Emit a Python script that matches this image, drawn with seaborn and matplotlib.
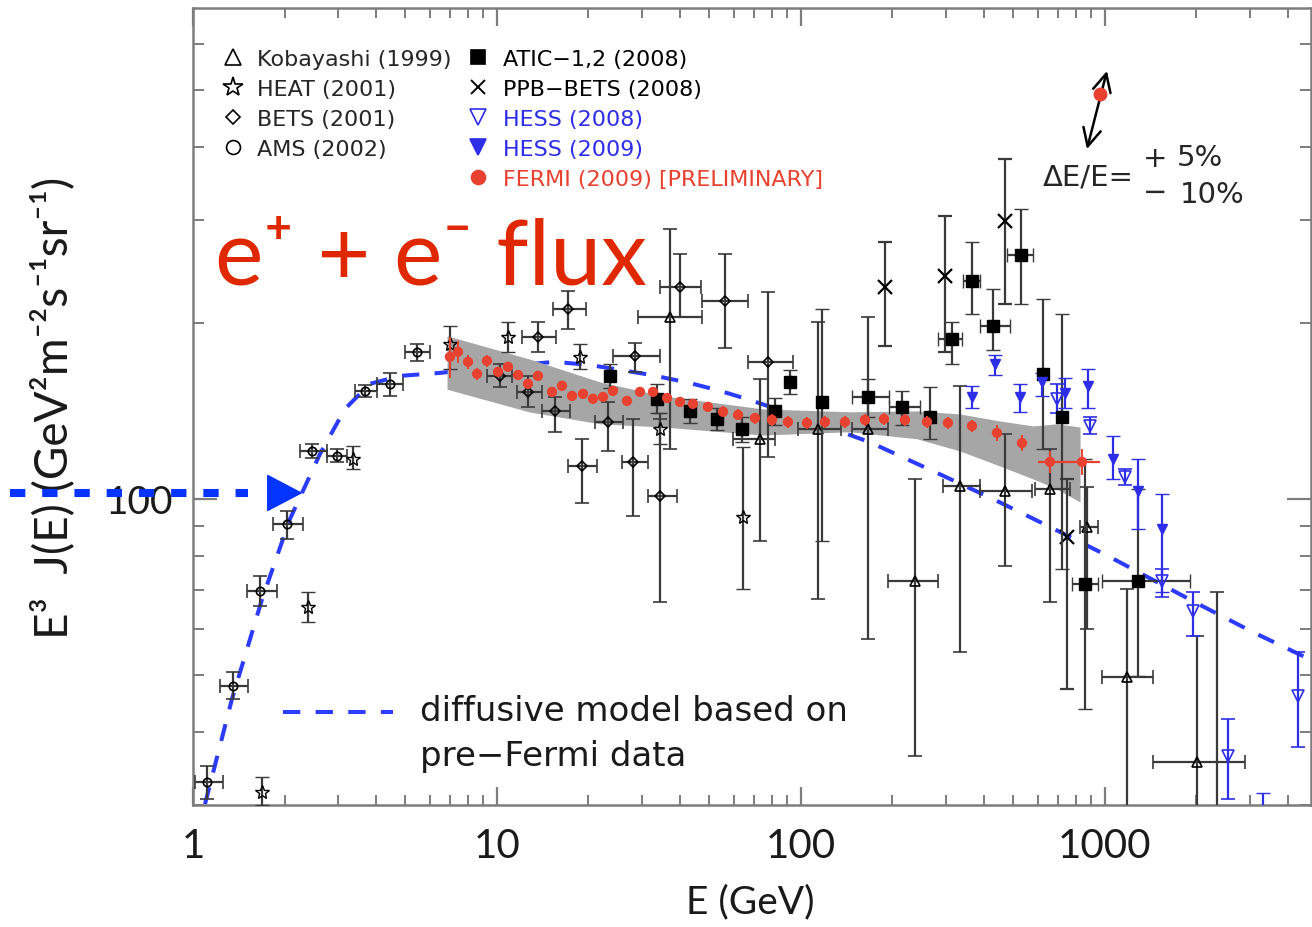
import numpy as np
import seaborn as sns
import matplotlib
matplotlib.use("Agg")
import matplotlib.pyplot as plt
from matplotlib.lines import Line2D
from matplotlib.ticker import FixedLocator, FixedFormatter, LogLocator, NullFormatter

# ---------------- data (E in GeV, flux = E^3 J(E)) ----------------
# diffusive model based on pre-Fermi data
model_E = [1.095, 1.343, 1.687, 2.084, 2.617, 3.162, 3.82, 4.80, 6.49, 10.2, 15.5, 20.2,
           31.9, 43.1, 54.2, 68.0, 99.3, 168.6, 276, 428, 659, 1038, 2022, 3113, 4725]
model_flux = [30.1, 45.5, 67.4, 92.4, 119.4, 142.5, 157.3, 162.3, 164.2, 168.3, 171.5, 169.4,
              163.0, 157.8, 153.0, 147.6, 138.1, 125.0, 111.2, 100.0, 89.6, 79.6, 66.2, 59.0, 53.2]

# Fermi systematic band
band_E = [6.85, 12.8, 21.8, 35.2, 75, 145, 241, 333, 452, 580, 695, 828]
band_lo = [154, 140.8, 134.4, 132.7, 128.6, 130.3, 126.7, 120.8, 113.8, 108.2, 104.0, 98.8]
band_hi = [190, 173.4, 158.5, 150.0, 142.5, 140.9, 141.4, 139.7, 135.9, 133.3, 134.4, 132.7]

# FERMI (2009) preliminary
fermi_E = [7.00, 7.44, 8.03, 8.60, 9.27, 10.08, 10.87, 11.73, 12.65, 13.64, 15.17, 16.36, 17.65,
           19.18, 20.69, 22.33, 24.07, 26.77, 29.54, 32.60, 36.25, 40.0, 44.1, 49.4, 55.4, 62.1,
           70.6, 80.3, 90.6, 104.6, 119.9, 139.5, 162.4, 187.5, 219.9, 259.7, 304.4, 365.2,
           441.3, 533.3, 659.2, 840.2]
fermi_flux = [174.9, 178.4, 171.5, 163.6, 172.2, 164.9, 168.2, 162.9, 157.3, 162.3, 152.4, 156.1,
              150.0, 151.2, 148.3, 149.4, 153.0, 147.1, 152.4, 152.4, 148.8, 146.5, 145.4, 143.7,
              140.9, 139.2, 137.5, 136.5, 135.4, 134.9, 135.4, 135.4, 136.5, 137.0, 136.5, 135.4,
              134.9, 133.3, 129.7, 124.6, 115.7, 115.7]
fermi_err = [14, 8, 5, 4, 4, 3, 3, 3, 3, 3, 3, 3, 3, 3, 3, 3, 3, 3, 3, 3, 3, 3, 3, 3, 3, 3,
             3, 3, 3, 3, 3, 3, 3, 3, 3, 3, 3, 3, 4, 4, 5, 6]
fermi_bin_lo = [602, 740]   # energy bins of the two last points
fermi_bin_hi = [740, 963]

# Kobayashi (1999)
kob_E = [37.1, 73.3, 114, 166, 237, 333, 469, 659, 873, 1181, 2009, 2340]
kob_flux = [204.7, 126.7, 131.8, 131.8, 72.4, 105.2, 103.2, 104.0, 89.6, 49.6, 35.5, 26.0]
kob_lo = [121.8, 84.7, 67.5, 57.7, 36.4, 54.8, 76.8, 66.7, 60.0, 27.0, 25.0, 20.0]
kob_hi = [289, 160, 201, 205, 108.2, 156, 129.2, 121.8, 105, 70.2, 58.4, 69.4]
kob_Elo = [29.0, 59.7, 98, 147, 193, 293, 387, 590, 828, 980, 1440, 2340]
kob_Ehi = [47.4, 82, 135, 193, 283, 387, 574, 767, 950, 1440, 2890, 2340]

# HEAT (2001)
heat_E = [1.686, 2.39, 3.36, 7.0, 10.87, 18.75, 34.4, 64.4]
heat_flux = [31.6, 65.3, 117.0, 184.0, 189.3, 174.9, 131.8, 93.2]
heat_lo = [30.0, 61.7, 112.5, 166.8, 178.3, 166.8, 124.2, 70.2]
heat_hi = [33.5, 69.4, 123.3, 197.5, 201.0, 184.0, 140.0, 122.8]

# BETS (2001)
bets_E = [10.2, 12.65, 13.64, 15.5, 17.1, 19.05, 23.2, 28.0, 28.5, 34.4, 40.0, 56.2, 78.0]
bets_flux = [162.3, 152.4, 189.3, 141.3, 211, 113.8, 135.4, 115.7, 175.4, 101.2, 230, 218, 171.5]
bets_lo = [155.3, 143.6, 178.3, 130.0, 195.4, 98.6, 120.8, 93.5, 165, 66.7, 205, 181, 118]
bets_hi = [170.2, 162.3, 201, 149.4, 227, 126.7, 146.5, 137, 185, 137, 262, 262, 226]
bets_Elo = [9.3, 11.6, 12.1, 14.1, 15.3, 17.1, 21.0, 25.8, 24.1, 31.4, 34.4, 47.4, 67]
bets_Ehi = [11.2, 14.1, 15.6, 17.4, 19.6, 21.3, 26.0, 31.4, 34.4, 39.0, 47.0, 67, 94]

# AMS (2002)
ams_E = [1.11, 1.354, 1.66, 2.04, 2.46, 2.98, 3.68, 4.44, 5.46]
ams_flux = [32.8, 47.9, 69.6, 90.6, 120.8, 118.5, 153.0, 157.0, 178.3]
ams_lo = [30.7, 45.5, 65.6, 85.4, 117.5, 115.5, 149.4, 150.0, 172.0]
ams_hi = [35.0, 50.6, 73.8, 95.4, 124.0, 121.8, 156.5, 164.0, 184.0]
ams_Elo = [1.015, 1.227, 1.505, 1.83, 2.25, 2.76, 3.41, 4.03, 4.98]
ams_Ehi = [1.255, 1.517, 1.89, 2.30, 2.76, 3.20, 4.03, 4.90, 6.0]

# ATIC-1,2 (2008)
atic_E = [23.5, 33.5, 43.1, 52.9, 63.9, 82, 92, 117, 166, 215, 266, 314, 365, 428, 529.5,
          626, 722, 860, 1284]
atic_flux = [162.3, 148.3, 141.3, 137, 131.8, 141.3, 158.5, 146.5, 149.4, 143.6, 138.1, 187.7,
             235.9, 197.7, 261, 163.6, 138.1, 71.6, 72.4]
atic_lo = [155, 140, 135, 131, 125, 134, 151, 84.7, 138, 134, 126.7, 170, 207, 180, 215,
           121.8, 75.9, 43.7, 49.8]
atic_hi = [170, 157, 148, 143, 138, 149, 166, 211, 160, 153, 155.3, 201, 275, 228.5, 313,
           220, 207, 117, 104]
atic_Elo = [23.5, 33.5, 43.1, 52.9, 63.9, 82, 92, 117, 147, 195, 266, 283, 341, 387, 476,
            626, 722, 780, 980]
atic_Ehi = [23.5, 33.5, 43.1, 52.9, 63.9, 82, 92, 117, 195, 246, 266, 338, 387, 487, 580,
            626, 722, 950, 1900]

# PPB-BETS (2008)
ppb_E = [189, 298, 469, 750]
ppb_flux = [230, 240, 299, 86.1]
ppb_lo = [182.6, 178, 215, 47.3]
ppb_hi = [275, 305, 381, 108]

# HESS (2008)
hess08_E = [695, 893, 1164, 1541, 1946, 2540, 4315]
hess08_flux = [148.3, 133.3, 109.0, 72.4, 64.4, 36.4, 46.0]
hess08_lo = [140, 129, 105.5, 68, 58.4, 30.7, 37.7]
hess08_hi = [157, 138, 112.5, 76, 69.4, 42.1, 54.8]

# HESS (2009)
hess09_E = [365, 435, 525, 621, 737, 879, 1062, 1284, 1541, 3311]
hess09_flux = [149.4, 170.2, 149.4, 158.5, 152, 156, 117, 103.2, 88.9, 29.0]
hess09_lo = [143, 163, 141, 150, 143, 143, 108, 88.9, 69.4, 26]
hess09_hi = [156, 176, 157, 164, 161, 167, 128, 117, 102, 31.5]

# ---------------- style ----------------
BLUE = "#2b3cff"
BLUE_PTS = "#2e2ee8"
RED = "#e8412f"
RED_TXT = "#e02800"
GREY_ERR = "#3a3a3a"
AXIS_GREY = "#7d7d7d"

sns.set_style("ticks")
plt.rcParams["font.family"] = ["Lato", "DejaVu Sans"]
HERSHEY = ["DejaVu Sans"]

fig = plt.figure(figsize=(13.12, 9.28), dpi=100)
ax = fig.add_axes([193 / 1312, 122 / 928, 1118 / 1312, 797 / 928])
ax.set_xscale("log")
ax.set_yscale("log")

# model curve and Fermi band
sns.lineplot(x=model_E, y=model_flux, ax=ax, sort=False, color=BLUE, lw=2.9,
             linestyle=(0, (4.3, 3.8)), zorder=1)
ax.fill_between(band_E, band_lo, band_hi, color="#a6a6a6", lw=0, zorder=2)


def errpoints(E, flux, lo, hi, Elo=None, Ehi=None, ecolor=GREY_ERR, z=4, **kw):
    E = np.asarray(E, float)
    flux = np.asarray(flux, float)
    yerr = [flux - np.asarray(lo, float), np.asarray(hi, float) - flux]
    xerr = None
    if Elo is not None:
        xerr = [E - np.asarray(Elo, float), np.asarray(Ehi, float) - E]
    ax.errorbar(E, flux, yerr=yerr, xerr=xerr, ecolor=ecolor, elinewidth=1.6,
                capsize=5, capthick=1.6, zorder=z, **kw)


errpoints(ams_E, ams_flux, ams_lo, ams_hi, ams_Elo, ams_Ehi,
          fmt="o", ms=6, mfc="none", mec="k", mew=1.2)
errpoints(heat_E, heat_flux, heat_lo, heat_hi,
          fmt="*", ms=10, mfc="none", mec="k", mew=1.0)
errpoints(bets_E, bets_flux, bets_lo, bets_hi, bets_Elo, bets_Ehi,
          fmt="D", ms=5.5, mfc="none", mec="k", mew=1.2)
errpoints(kob_E, kob_flux, kob_lo, kob_hi, kob_Elo, kob_Ehi,
          fmt="^", ms=7, mfc="none", mec="k", mew=1.2)
errpoints(atic_E, atic_flux, atic_lo, atic_hi, atic_Elo, atic_Ehi,
          fmt="s", ms=8, mfc="k", mec="k", mew=1.0, z=5)
errpoints(ppb_E, ppb_flux, ppb_lo, ppb_hi,
          fmt="x", ms=10, mec="k", mew=1.6)
errpoints(hess08_E, hess08_flux, hess08_lo, hess08_hi, ecolor=BLUE_PTS,
          fmt="v", ms=8, mfc="none", mec=BLUE_PTS, mew=1.2, z=5)
errpoints(hess09_E, hess09_flux, hess09_lo, hess09_hi, ecolor=BLUE_PTS,
          fmt="v", ms=7, mfc=BLUE_PTS, mec=BLUE_PTS, mew=1.0, z=5)

# Fermi points
ax.errorbar(fermi_E, fermi_flux, yerr=fermi_err, fmt="none", ecolor=RED,
            elinewidth=1.4, zorder=6)
ax.errorbar(fermi_E[-2:], fermi_flux[-2:],
            xerr=[np.subtract(fermi_E[-2:], fermi_bin_lo), np.subtract(fermi_bin_hi, fermi_E[-2:])],
            fmt="none", ecolor=RED, elinewidth=1.6, zorder=6)
sns.scatterplot(x=fermi_E, y=fermi_flux, ax=ax, color=RED, s=55, edgecolor="none",
                zorder=7, legend=False)

# ---------------- axes ----------------
ax.set_xlim(1, 4762)
ax.set_ylim(30, 690)
ax.xaxis.set_major_locator(FixedLocator([1, 10, 100, 1000]))
ax.xaxis.set_major_formatter(FixedFormatter(["1", "10", "100", "1000"]))
ax.xaxis.set_minor_locator(LogLocator(base=10, subs=np.arange(2, 10), numticks=20))
ax.xaxis.set_minor_formatter(NullFormatter())
ax.yaxis.set_major_locator(FixedLocator([100]))
ax.yaxis.set_major_formatter(FixedFormatter(["100"]))
ax.yaxis.set_minor_locator(LogLocator(base=10, subs=np.arange(2, 10), numticks=20))
ax.yaxis.set_minor_formatter(NullFormatter())

ax.tick_params(which="both", direction="in", top=True, right=True, color=AXIS_GREY,
               labelcolor="#1a1a1a")
ax.tick_params(axis="x", which="major", length=13, width=1.6, labelsize=29, pad=16)
ax.tick_params(axis="x", which="minor", length=7, width=1.4)
ax.tick_params(axis="y", which="major", length=17, width=1.6, labelsize=28, pad=14)
ax.tick_params(axis="y", which="minor", length=8, width=1.4)
for sp in ax.spines.values():
    sp.set_color(AXIS_GREY)
    sp.set_linewidth(1.8)

ax.set_xlabel("E (GeV)", fontsize=28, color="#1a1a1a")
ax.xaxis.set_label_coords(0.498, -0.098)
ax.set_ylabel("E³  J(E) (GeV²m⁻²s⁻¹sr⁻¹)", fontsize=33, color="#1a1a1a")
ax.yaxis.set_label_coords(-0.1055, 0.5)

# ---------------- legends ----------------
def mk(marker, color="k", fill="none", ms=11, mew=1.2):
    return Line2D([], [], ls="none", marker=marker, ms=ms, mfc=fill, mec=color, mew=mew)


leg_kw = dict(frameon=False, prop={"family": HERSHEY, "size": 16}, handlelength=1.0,
              handletextpad=0.6, labelspacing=0.45, borderpad=0, borderaxespad=0,
              loc="upper left")
h1 = [mk("^"), mk("*", ms=15), mk("D", ms=7.5), mk("o", ms=10)]
l1 = ["Kobayashi (1999)", "HEAT (2001)", "BETS (2001)", "AMS (2002)"]
leg1 = ax.legend(h1, l1, bbox_to_anchor=(0.0256, 0.9485), **leg_kw)
ax.add_artist(leg1)
h2 = [mk("s", fill="k", ms=10), mk("x", ms=10, mew=1.4), mk("v", BLUE_PTS),
      mk("v", BLUE_PTS, BLUE_PTS), mk("o", RED, RED, ms=10)]
l2 = ["ATIC−1,2 (2008)", "PPB−BETS (2008)", "HESS (2008)", "HESS (2009)",
      "FERMI (2009) [PRELIMINARY]"]
leg2 = ax.legend(h2, l2, bbox_to_anchor=(0.2451, 0.9485),
                 labelcolor=["k", "k", BLUE_PTS, BLUE_PTS, RED], **leg_kw)

# model legend
ax.plot([0.0805, 0.179], [0.1167, 0.1167], transform=ax.transAxes, color=BLUE, lw=2.9,
        ls=(0, (4.3, 3.8)))
ax.text(0.203, 0.118, "diffusive model based on", transform=ax.transAxes, fontsize=24.5,
        family=HERSHEY, va="center", color="#1a1a1a")
ax.text(0.203, 0.0615, "pre−Fermi data", transform=ax.transAxes, fontsize=24.5,
        family=HERSHEY, va="center", color="#1a1a1a")

# energy-scale uncertainty annotation
ax.annotate("", xy=(0.8175, 0.921), xytext=(0.7996, 0.823), xycoords="axes fraction",
            arrowprops=dict(arrowstyle="<->", lw=1.8, color="k", mutation_scale=32,
                            shrinkA=0, shrinkB=0))
ax.plot([0.8113], [0.892], marker="o", ms=9, color=RED, transform=ax.transAxes, zorder=8)
ax.text(0.7603, 0.789, "ΔE/E=", transform=ax.transAxes, fontsize=21, family=HERSHEY,
        va="center", ha="left")
ax.text(0.850, 0.812, "+", transform=ax.transAxes, fontsize=21, family=HERSHEY, va="center")
ax.text(0.880, 0.813, "5%", transform=ax.transAxes, fontsize=21, family=HERSHEY, va="center")
ax.text(0.850, 0.769, "−", transform=ax.transAxes, fontsize=21, family=HERSHEY, va="center")
ax.text(0.883, 0.767, "10%", transform=ax.transAxes, fontsize=21, family=HERSHEY, va="center")

# big red label
ax.text(0.0197, 0.654, "e⁺ + e⁻ flux", transform=ax.transAxes, fontsize=66, color=RED_TXT,
        va="baseline", ha="left")

# blue dashed arrow pointing at the 100 level
ax.plot([-0.1637, 0.049], [0.3915, 0.3915], transform=ax.transAxes, clip_on=False,
        color="#0533ff", lw=5.8, ls=(0, (1.9, 2.1)), dash_capstyle="butt", zorder=10)
ax.annotate("", xy=(0.098, 0.3915), xytext=(0.0689, 0.3915), xycoords="axes fraction",
            arrowprops=dict(arrowstyle="-|>,head_length=2.4,head_width=1.26",
                            mutation_scale=10, color="#0533ff", lw=1, shrinkA=0, shrinkB=0),
            zorder=10)

fig.savefig("out.png", dpi=100)
